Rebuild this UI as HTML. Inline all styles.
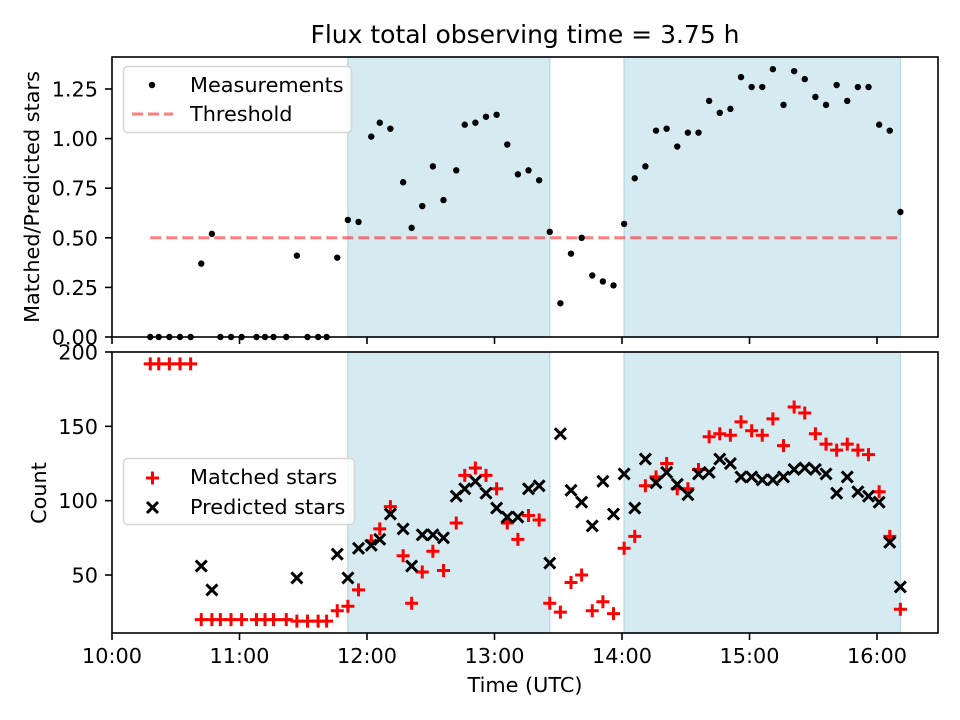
<!DOCTYPE html>
<html><head><meta charset="utf-8"><style>
body{margin:0;background:#fff}
svg{display:block;font-family:"DejaVu Sans","Liberation Sans",sans-serif}
</style></head><body>
<svg id="c" width="960" height="720" viewBox="0 0 960 720"></svg>
<script>
// minutes after 10:00
const times=[18,22,27,32,37,42,47,51,56,61,68,72,76,82,87,92,97,101,106,111,116,122,126,131,137,141,146,151,156,162,166,171,176,181,186,191,196,201,206,211,216,221,226,231,236,241,246,251,256,261,266,271,276,281,286,291,296,301,306,311,316,321,326,331,336,341,346,351,356,361,366,371];
const ratio=[0,0,0,0,0,0.37,0.52,0,0,0,0,0,0,0,0.41,0,0,0,0.40,0.59,0.58,1.01,1.08,1.05,0.78,0.55,0.66,0.86,0.69,0.84,1.07,1.08,1.11,1.12,0.97,0.82,0.84,0.79,0.53,0.17,0.42,0.50,0.31,0.28,0.26,0.57,0.80,0.86,1.04,1.05,0.96,1.03,1.03,1.19,1.13,1.15,1.31,1.26,1.26,1.35,1.17,1.34,1.30,1.21,1.17,1.27,1.19,1.26,1.26,1.07,1.04,0.63];
const matched=[192,192,192,192,192,20,20,20,20,20,20,20,20,20,19,19,19,19,26,29,40,73,81,96,63,31,52,66,53,85,117,122,117,108,85,74,90,87,31,25,45,50,26,32,24,68,76,110,116,125,108,108,121,143,145,144,153,147,144,155,137,163,159,145,138,134,138,134,131,106,76,27];
const predicted=[null,null,null,null,null,56,40,null,null,null,null,null,null,null,48,null,null,null,64,48,68,70,74,91,81,56,77,77,75,103,108,113,105,95,89,89,108,110,58,145,107,99,83,113,91,118,95,128,112,119,111,104,118,119,128,125,116,116,114,114,116,121,122,121,118,105,116,106,103,99,72,42];
const spans=[[111,206],[241,371]];
const threshold=0.5;
const topTicks=[0,0.25,0.5,0.75,1.0,1.25];
const botTicks=[50,100,150,200];
const xTicks=[0,60,120,180,240,300,360];
const xTickLabels=["10:00","11:00","12:00","13:00","14:00","15:00","16:00"];

const NS="http://www.w3.org/2000/svg";
const svg=document.getElementById('c');
function el(tag,attrs,parent,text){const e=document.createElementNS(NS,tag);for(const k in attrs)e.setAttribute(k,attrs[k]);if(text!==undefined)e.textContent=text;(parent||svg).appendChild(e);return e;}
const L=112,R=938,T1=57,B1=337,T2=352,B2=633;
const X=m=>L+(m-0)/(388.7)*(R-L);
const Y1=v=>B1-v/1.4113*(B1-T1);
const Y2=v=>B2-(v-11)/(200-11)*(B2-T2);
const FS=20.8;

function panel(top,bot,yfun,ticks,fmt,name){
  const g=el('g',{},svg);
  
  
  for(const s of spans){
    const r=el('rect',{x:X(s[0]),y:top,width:X(s[1])-X(s[0]),height:bot-top,fill:'#d5eaf1',stroke:'#bcdde8','stroke-width':1.5},g);
    
    
  }
  for(const t of ticks){
    const y=yfun(t);
    el('line',{x1:L-7,x2:L,y1:y,y2:y,stroke:'#000','stroke-width':1.6},g);
    const tx=el('text',{x:L-14,y:y+7.5,'text-anchor':'end','font-size':FS},g,fmt(t));
    
    
  }
  xTicks.forEach(t=>{el('line',{x1:X(t),x2:X(t),y1:bot,y2:bot+7,stroke:'#000','stroke-width':1.6},g);});
  return g;
}
const g1=panel(T1,B1,Y1,topTicks,v=>v.toFixed(2),'top-panel');
const g2=panel(T2,B2,Y2,botTicks,v=>String(v),'bottom-panel');

const th=el('line',{x1:X(times[0]),x2:X(times[times.length-1]),y1:Y1(threshold),y2:Y1(threshold),stroke:'rgba(255,0,0,0.5)','stroke-width':3,'stroke-dasharray':'11,5'},g1);


times.forEach((t,i)=>{
  const d=el('circle',{cx:X(t),cy:Y1(ratio[i]),r:3.2,fill:'#000'},g1);
  
  
});
function plus(x,y,parent){return el('path',{d:`M${x-6.5},${y}H${x+6.5}M${x},${y-6.5}V${y+6.5}`,stroke:'#f00','stroke-width':3},parent);}
function cross(x,y,parent){return el('path',{d:`M${x-5.5},${y-5.5}L${x+5.5},${y+5.5}M${x-5.5},${y+5.5}L${x+5.5},${y-5.5}`,stroke:'#000','stroke-width':3},parent);}
times.forEach((t,i)=>{
  const p=plus(X(t),Y2(matched[i]),g2);
  
  
});
times.forEach((t,i)=>{
  if(predicted[i]===null)return;
  const p=cross(X(t),Y2(predicted[i]),g2);
  
  
});
el('rect',{x:L,y:T1,width:R-L,height:B1-T1,fill:'none',stroke:'#000','stroke-width':1.6},g1);
el('rect',{x:L,y:T2,width:R-L,height:B2-T2,fill:'none',stroke:'#000','stroke-width':1.6},g2);
xTicks.forEach((t,i)=>{
  const tx=el('text',{x:X(t),y:B2+30,'text-anchor':'middle','font-size':FS},g2,xTickLabels[i]);
  
  
});
</script>
<div style="position:absolute;left:0;top:0;width:960px;height:720px;pointer-events:none">
<svg width="960" height="720" style="position:absolute;left:0;top:0;font-family:'DejaVu Sans','Liberation Sans',sans-serif">
<text x="525" y="43" text-anchor="middle" font-size="25">Flux total observing time = 3.75 h</text>
<text transform="translate(39,197) rotate(-90)" text-anchor="middle" font-size="20.8">Matched/Predicted stars</text>
<text transform="translate(46,493) rotate(-90)" text-anchor="middle" font-size="20.8">Count</text>
<text x="525" y="692" text-anchor="middle" font-size="20.8">Time (UTC)</text>
<g>
<rect x="123.5" y="66.5" width="228" height="66" rx="4" fill="rgba(255,255,255,0.85)" stroke="#d6d6d6" stroke-width="1.6"/>
<circle cx="152" cy="85" r="3.2" fill="#000"/>
<text x="190" y="92" font-size="20.8">Measurements</text>
<line x1="132" x2="173" y1="114" y2="114" stroke="rgba(255,0,0,0.5)" stroke-width="3" stroke-dasharray="11,5"/>
<text x="190" y="121" font-size="20.8">Threshold</text>
</g>
<g>
<rect x="123.5" y="458.5" width="231" height="66" rx="4" fill="rgba(255,255,255,0.85)" stroke="#d6d6d6" stroke-width="1.6"/>
<path d="M146,478H159M152.5,471.5V484.5" stroke="#f00" stroke-width="3"/>
<text x="190" y="484" font-size="20.8">Matched stars</text>
<path d="M147,502L158,513M147,513L158,502" stroke="#000" stroke-width="3"/>
<text x="190" y="514" font-size="20.8">Predicted stars</text>
</g>
</svg>
</div>
</body></html>
